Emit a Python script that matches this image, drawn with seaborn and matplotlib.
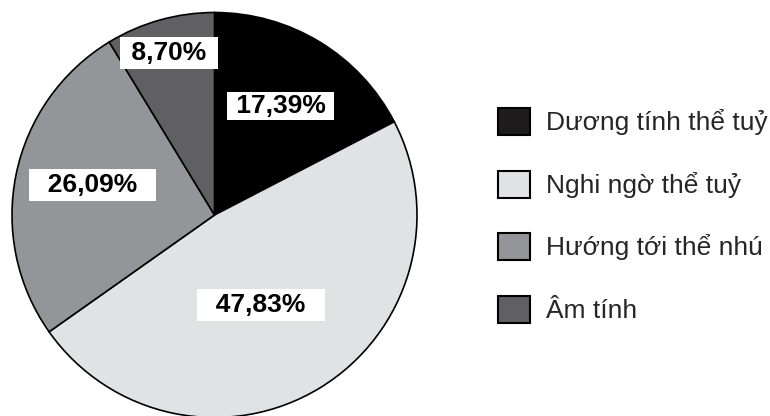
import matplotlib
matplotlib.use("Agg")
import matplotlib.pyplot as plt
import seaborn as sns
import numpy as np
from matplotlib.patches import Patch

# Data
categories = ["Dương tính thể tuỷ", "Nghi ngờ thể tuỷ", "Hướng tới thể nhú", "Âm tính"]
values = [17.39, 47.83, 26.09, 8.70]
value_labels = ["17,39%", "47,83%", "26,09%", "8,70%"]

# Styles
colors = ["#000000", "#e1e2e4", "#939598", "#606062"]
legend_colors = ["#1e1c1d", "#e1e2e4", "#939598", "#606062"]
label_dist = [0.63, 0.50, 0.62, 0.83]
label_angle_shift = [0.0, -4.0, -2.0, 0.0]
label_pad_spaces = [1, 2, 2, 1]
label_box_pad = [0.06, 0.16, 0.16, 0.16]

sns.set_theme(style="white")
plt.rcParams["font.family"] = ["Liberation Sans", "DejaVu Sans"]

W, H = 770, 416
fig = plt.figure(figsize=(W / 100, H / 100), dpi=100)
fig.patch.set_facecolor("white")

cx, cy, r = 214.5, 215.0, 202.5
ax = fig.add_axes([(cx - r) / W, (H - cy - r) / H, 2 * r / W, 2 * r / H])

wedges, _ = ax.pie(values, colors=colors, startangle=90, counterclock=False,
                   radius=1.0, wedgeprops=dict(edgecolor="black", linewidth=1.2),
                   frame=False)
ax.set_xlim(-1, 1)
ax.set_ylim(-1, 1)
ax.set_aspect("equal")
ax.axis("off")
for w in wedges:
    w.set_clip_on(False)

for w, lab, d, da, n, p in zip(wedges, value_labels, label_dist, label_angle_shift,
                               label_pad_spaces, label_box_pad):
    ang = np.deg2rad((w.theta1 + w.theta2) / 2 + da)
    x, y = d * np.cos(ang), d * np.sin(ang)
    ax.text(x, y, " " * n + lab + " " * n, ha="center", va="center",
            fontsize=19, fontweight="bold", color="black",
            bbox=dict(boxstyle=f"square,pad={p}", facecolor="white", edgecolor="none"))

handles = [Patch(facecolor=c, edgecolor="black", linewidth=1.5) for c in legend_colors]
fig.legend(handles, categories, loc="upper left",
           bbox_to_anchor=(498 / W, 1 - 108 / H), frameon=False,
           fontsize=19, handlelength=1.2, handleheight=1.2, handletextpad=0.6,
           labelspacing=1.33, borderpad=0, borderaxespad=0)

fig.savefig("out.png", dpi=100, facecolor="white")
